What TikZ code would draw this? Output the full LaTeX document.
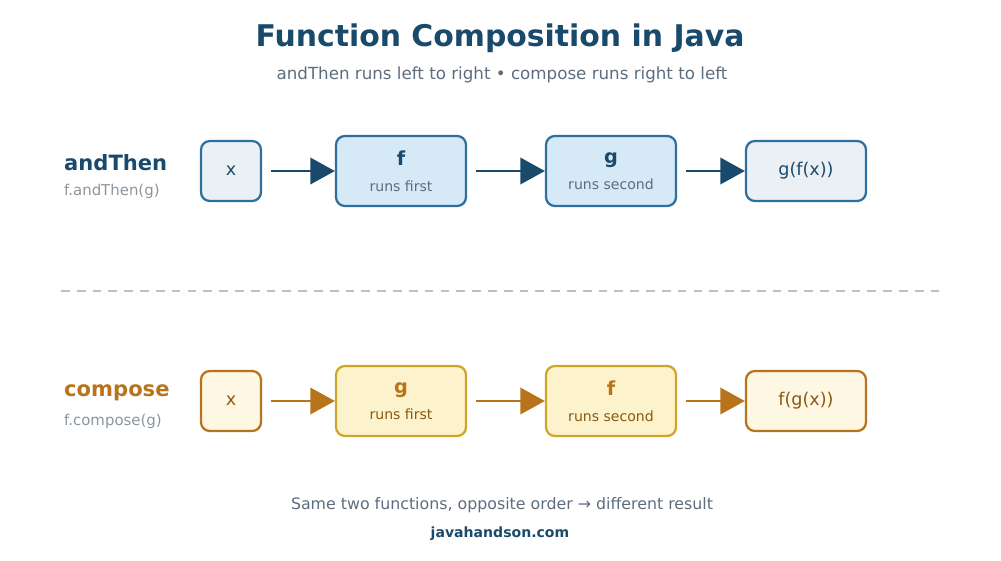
\documentclass[tikz,border=0pt]{standalone}
\usepackage{fontspec}
\setmainfont{DejaVu Sans}
\usetikzlibrary{arrows.meta}
\definecolor{navy}{HTML}{1A4A6B}
\definecolor{blueline}{HTML}{2E6F9E}
\definecolor{bluefill}{HTML}{D6E9F6}
\definecolor{palefill}{HTML}{EBF0F5}
\definecolor{amber}{HTML}{B8741A}
\definecolor{goldline}{HTML}{CFA52A}
\definecolor{goldfill}{HTML}{FCF2CC}
\definecolor{creamfill}{HTML}{FEF7E4}
\definecolor{amberdark}{HTML}{8A5A10}
\definecolor{greytext}{HTML}{5D6D7E}
\definecolor{lightgrey}{HTML}{8C959E}

\tikzset{
  box/.style = {draw, rounded corners=5pt, line width=1.3pt, align=center, inner sep=0pt},
  small/.style = {box, minimum width=1.2cm, minimum height=1.2cm, font=\fontsize{10}{12}\selectfont},
  mid/.style = {box, minimum width=2.6cm, minimum height=1.4cm},
  result/.style = {box, minimum width=2.4cm, minimum height=1.2cm, font=\fontsize{10}{12}\selectfont},
  flow/.style = {line width=1.6pt, -{Triangle[length=14pt, width=15pt]}, shorten <=5pt, shorten >=0pt},
}

\begin{document}
\begin{tikzpicture}[x=0.02cm, y=-0.02cm]
\useasboundingbox (0,0) rectangle (1001,561);

% titles
\node (title) at (500,38) {\fontsize{17}{20}\selectfont\bfseries\color{navy}Function Composition in Java};
\node (subtitle) at (502,75) {\fontsize{9.5}{12}\selectfont\color{greytext}andThen runs left to right • compose runs right to left};

% andThen row
\node[anchor=west] (lblA) at (58,163) {\fontsize{12}{14}\selectfont\bfseries\color{navy}andThen};
\node[anchor=west] (subA) at (58,191) {\fontsize{8.5}{10}\selectfont\color{lightgrey}f.andThen(g)};
\node[small, draw=blueline, fill=palefill, text=navy] (xA) at (231,171) {x};
\node[mid, draw=blueline, fill=bluefill] (fA) at (401,171) {{\fontsize{11}{13}\selectfont\bfseries\color{navy}f}\\[3pt]{\fontsize{8}{10}\selectfont\color{greytext}runs first}};
\node[mid, draw=blueline, fill=bluefill] (gA) at (611,171) {{\fontsize{11}{13}\selectfont\bfseries\color{navy}g}\\[3pt]{\fontsize{8}{10}\selectfont\color{greytext}runs second}};
\node[result, draw=blueline, fill=palefill, text=navy] (rA) at (806,171) {g(f(x))};
\draw[flow, navy] (xA) -- (fA);
\draw[flow, navy] (fA) -- (gA);
\draw[flow, navy] (gA) -- (rA);

% separator
\coordinate (sepL) at (61,291);
\coordinate (sepR) at (941,291);
\draw[lightgray, line width=1pt, dash pattern=on 5pt off 4pt] (sepL) -- (sepR);

% compose row
\node[anchor=west] (lblC) at (58,393) {\fontsize{12}{14}\selectfont\bfseries\color{amber}compose};
\node[anchor=west] (subC) at (58,421) {\fontsize{8.5}{10}\selectfont\color{lightgrey}f.compose(g)};
\node[small, draw=amber, fill=creamfill, text=amberdark] (xC) at (231,401) {x};
\node[mid, draw=goldline, fill=goldfill] (gC) at (401,401) {{\fontsize{11}{13}\selectfont\bfseries\color{amber}g}\\[3pt]{\fontsize{8}{10}\selectfont\color{amberdark}runs first}};
\node[mid, draw=goldline, fill=goldfill] (fC) at (611,401) {{\fontsize{11}{13}\selectfont\bfseries\color{amber}f}\\[3pt]{\fontsize{8}{10}\selectfont\color{amberdark}runs second}};
\node[result, draw=amber, fill=creamfill, text=amberdark] (rC) at (806,401) {f(g(x))};
\draw[flow, amber] (xC) -- (gC);
\draw[flow, amber] (gC) -- (fC);
\draw[flow, amber] (fC) -- (rC);

% footer
\node (note) at (502,505) {\fontsize{9}{11}\selectfont\color{greytext}Same two functions, opposite order → different result};
\node (site) at (500,534) {\fontsize{8}{10}\selectfont\bfseries\color{navy}javahandson.com};
\end{tikzpicture}
\end{document}
